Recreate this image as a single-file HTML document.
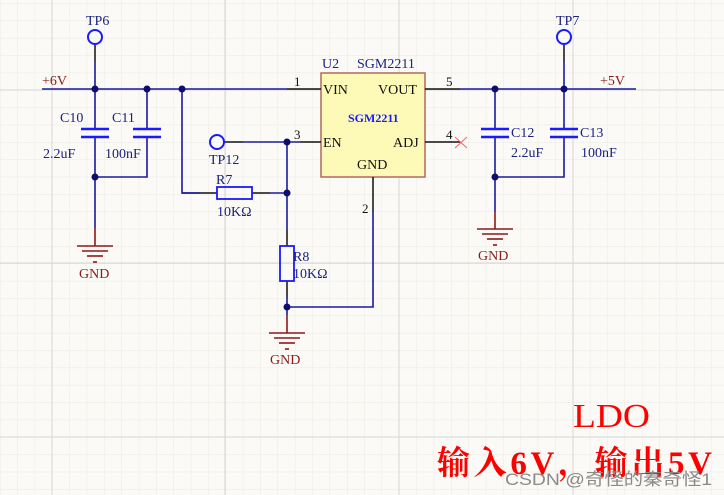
<!DOCTYPE html>
<html><head><meta charset="utf-8"><style>
html,body{margin:0;padding:0;background:#fbfaf6;}
svg{display:block;}
text{font-family:"Liberation Serif","Noto Serif CJK SC",serif;}
</style></head><body>
<svg width="724" height="495" viewBox="0 0 724 495" xmlns="http://www.w3.org/2000/svg">
<defs>
<pattern id="minor" width="17.35" height="17.35" patternUnits="userSpaceOnUse" x="52" y="90">
<path d="M0 0H17.35M0 0V17.35" stroke="#ebe9e4" stroke-width="1" fill="none"/>
</pattern>
</defs>
<rect width="724" height="495" fill="#fbfaf6"/>
<rect width="724" height="495" fill="url(#minor)"/>
<g stroke="#d8d6d2" stroke-width="1">
<line x1="52" y1="0" x2="52" y2="495"/><line x1="225" y1="0" x2="225" y2="495"/>
<line x1="399" y1="0" x2="399" y2="495"/><line x1="573" y1="0" x2="573" y2="495"/>
<line x1="0" y1="90" x2="724" y2="90"/><line x1="0" y1="263" x2="724" y2="263"/>
<line x1="0" y1="437" x2="724" y2="437"/>
</g>

<!-- IC -->
<rect x="321" y="73" width="104" height="104" fill="#fdfab8" stroke="#b06a5e" stroke-width="1.5"/>
<g fill="#111" font-size="14">
<text x="323" y="94">VIN</text><text x="378" y="94">VOUT</text>
<text x="323" y="147">EN</text><text x="393" y="147">ADJ</text>
<text x="357" y="169">GND</text>
</g>
<text x="348" y="122" font-size="12" font-weight="bold" fill="#1a1aff">SGM2211</text>
<text x="322" y="68" font-size="14" fill="#1a237e">U2</text>
<text x="357" y="68" font-size="14" fill="#1a237e">SGM2211</text>

<!-- pins black -->
<g stroke="#111" stroke-width="1.5">
<line x1="287" y1="89" x2="321" y2="89"/>
<line x1="300" y1="142" x2="321" y2="142"/>
<line x1="425" y1="89" x2="460" y2="89"/>
<line x1="425" y1="142" x2="460" y2="142"/>
<line x1="373" y1="177" x2="373" y2="212"/>
<line x1="95" y1="45" x2="95" y2="62"/>
<line x1="564" y1="45" x2="564" y2="62"/>
<line x1="287" y1="230" x2="287" y2="246"/>
<line x1="287" y1="281" x2="287" y2="298"/>
<line x1="182" y1="193" x2="217" y2="193"/><line x1="252" y1="193" x2="270" y2="193"/>
<line x1="224" y1="142" x2="243" y2="142"/>
</g>
<g fill="#111" font-size="13">
<text x="294" y="86">1</text><text x="294" y="139">3</text>
<text x="446" y="86">5</text><text x="446" y="139">4</text>
<text x="362" y="213">2</text>
</g>
<g stroke="#ff6060" stroke-width="1"><line x1="455" y1="137" x2="467" y2="148"/><line x1="467" y1="137" x2="455" y2="148"/></g>

<!-- blue wires -->
<g stroke="#1a1aa0" stroke-width="1.6" fill="none">
<line x1="42" y1="89" x2="287" y2="89"/>
<line x1="95" y1="62" x2="95" y2="129"/>
<line x1="95" y1="137" x2="95" y2="228"/>
<line x1="147" y1="89" x2="147" y2="129"/>
<polyline points="147,137 147,177 95,177"/>
<polyline points="182,89 182,193 200,193"/>
<line x1="243" y1="142" x2="300" y2="142"/>
<polyline points="270,193 287,193"/>
<line x1="287" y1="142" x2="287" y2="230"/>
<line x1="287" y1="298" x2="287" y2="315"/>
<polyline points="287,307 373,307 373,212"/>
<line x1="460" y1="89" x2="636" y2="89"/>
<line x1="564" y1="62" x2="564" y2="129"/>
<line x1="495" y1="89" x2="495" y2="129"/>
<line x1="495" y1="137" x2="495" y2="212"/>
<polyline points="564,137 564,177 495,177"/>
</g>

<!-- caps -->
<g stroke="#1a1aff" stroke-width="2.5">
<line x1="81" y1="129" x2="109" y2="129"/><line x1="81" y1="137" x2="109" y2="137"/>
<line x1="133" y1="129" x2="161" y2="129"/><line x1="133" y1="137" x2="161" y2="137"/>
<line x1="481" y1="129" x2="509" y2="129"/><line x1="481" y1="137" x2="509" y2="137"/>
<line x1="550" y1="129" x2="578" y2="129"/><line x1="550" y1="137" x2="578" y2="137"/>
</g>
<!-- resistors -->
<rect x="217" y="187" width="35" height="12" fill="none" stroke="#1a1aff" stroke-width="1.8"/>
<rect x="280" y="246" width="14" height="35" fill="none" stroke="#1a1aff" stroke-width="1.8"/>
<!-- test points -->
<g fill="none" stroke="#1a1aff" stroke-width="2">
<circle cx="95" cy="37" r="7"/><circle cx="564" cy="37" r="7"/><circle cx="217" cy="142" r="7"/>
</g>
<!-- junctions -->
<g fill="#0d0d70">
<circle cx="95" cy="89" r="3.5"/><circle cx="147" cy="89" r="3.5"/><circle cx="182" cy="89" r="3.5"/>
<circle cx="95" cy="177" r="3.5"/><circle cx="287" cy="142" r="3.5"/><circle cx="287" cy="193" r="3.5"/>
<circle cx="287" cy="307" r="3.5"/><circle cx="495" cy="89" r="3.5"/><circle cx="564" cy="89" r="3.5"/>
<circle cx="495" cy="177" r="3.5"/>
</g>

<!-- grounds -->
<g stroke="#8b1a1a" stroke-width="1.6">
<line x1="95" y1="228" x2="95" y2="246"/>
<line x1="77" y1="246" x2="113" y2="246"/><line x1="82" y1="251" x2="108" y2="251"/><line x1="87" y1="256" x2="103" y2="256"/><line x1="93" y1="262" x2="97" y2="262"/>
<line x1="287" y1="315" x2="287" y2="333"/>
<line x1="269" y1="333" x2="305" y2="333"/><line x1="274" y1="338" x2="300" y2="338"/><line x1="279" y1="343" x2="295" y2="343"/><line x1="285" y1="349" x2="289" y2="349"/>
<line x1="495" y1="212" x2="495" y2="229"/>
<line x1="477" y1="229" x2="513" y2="229"/><line x1="482" y1="234" x2="508" y2="234"/><line x1="487" y1="239" x2="503" y2="239"/><line x1="493" y1="245" x2="497" y2="245"/>
</g>
<g fill="#8b1a1a" font-size="14">
<text x="79" y="278">GND</text><text x="270" y="364">GND</text><text x="478" y="260">GND</text>
<text x="42" y="85">+6V</text><text x="600" y="85">+5V</text>
</g>

<!-- labels -->
<g fill="#1a237e" font-size="14">
<text x="86" y="25">TP6</text><text x="556" y="25">TP7</text><text x="209" y="164">TP12</text>
<text x="60" y="122">C10</text><text x="112" y="122">C11</text>
<text x="43" y="158">2.2uF</text><text x="105" y="158">100nF</text>
<text x="216" y="184">R7</text><text x="217" y="216">10KΩ</text>
<text x="293" y="261">R8</text><text x="293" y="278">10KΩ</text>
<text x="511" y="137">C12</text><text x="511" y="157">2.2uF</text>
<text x="580" y="137">C13</text><text x="581" y="157">100nF</text>
</g>

<text x="573" y="427" font-size="34" fill="#ff0000" textLength="77" lengthAdjust="spacingAndGlyphs">LDO</text>
<text x="437" y="474" font-size="33" fill="#ff0000" font-weight="bold" textLength="275" lengthAdjust="spacing">输入6V，输出5V</text>
<text x="505" y="485" font-size="17" fill="#8a8a8a" textLength="207" lengthAdjust="spacingAndGlyphs" style="font-family:'Liberation Sans','Noto Sans CJK SC',sans-serif">CSDN @奇怪的秦奇怪1</text>
</svg>
</body></html>
